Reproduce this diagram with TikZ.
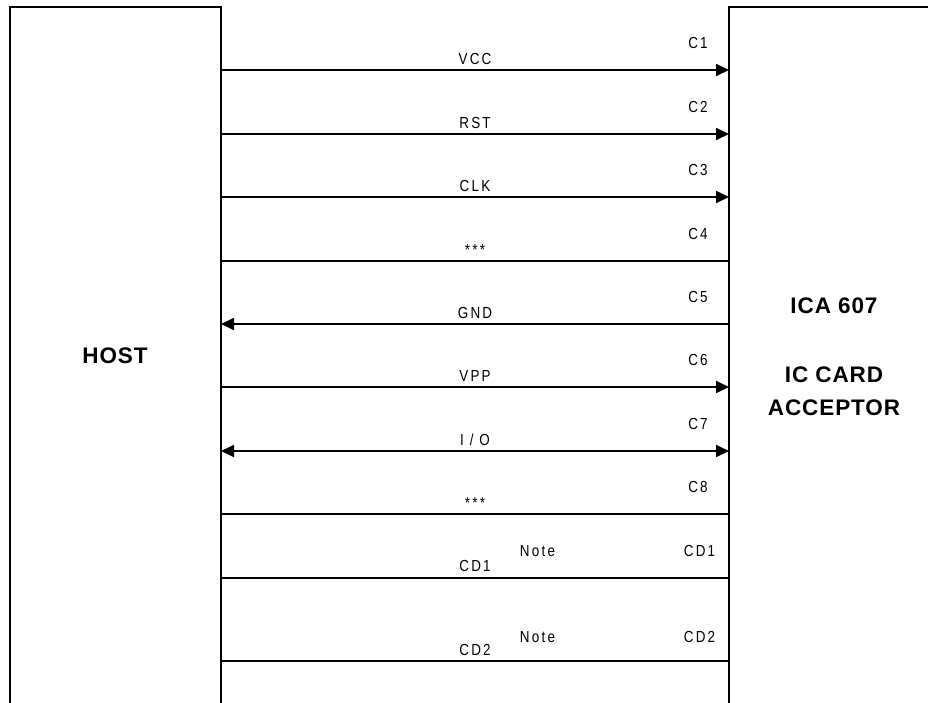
\documentclass[tikz,border=0pt]{standalone}
\usepackage{fontspec}
\setmainfont{Liberation Sans}
\newfontfamily\labfont[FakeStretch=0.84,LetterSpace=14]{Liberation Sans}
\newfontfamily\bigfont[LetterSpace=4]{Liberation Sans}
\usetikzlibrary{arrows.meta}
\begin{document}
\begin{tikzpicture}[x=1pt,y=-1pt,
  wire/.style={line width=1.8pt},
  tipr/.style={-{Triangle[length=13pt,width=12pt]}},
  tipb/.style={{Triangle[length=13pt,width=12pt]}-{Triangle[length=13pt,width=12pt]}},
  lab/.style={font=\labfont\fontsize{16}{18}\selectfont, inner sep=0pt, anchor=base},
  big/.style={font=\bigfont\bfseries\fontsize{22.5}{26}\selectfont, inner sep=0pt, anchor=base}]
\useasboundingbox (0,0) rectangle (928,702);

% boxes (open)
\draw[wire] (10,710) -- (10,7) -- (221,7) -- (221,710);
\draw[wire] (729,710) -- (729,7) -- (935,7);
\node[big] (host) at (115,363) {HOST};
\node[big] (ica) at (834,313) {ICA 607};
\node[big] (iccard) at (834,382) {IC CARD};
\node[big] (acc) at (834,415) {ACCEPTOR};

% end points on box edges
\foreach \n/\y in {1/70,2/134,3/197,4/261,5/324,6/387,7/451,8/514,9/578,10/661}{
  \coordinate (L\n) at (221,\y);
  \coordinate (R\n) at (729,\y);
}

\draw[wire,tipr] (L1) -- (R1);
\draw[wire,tipr] (L2) -- (R2);
\draw[wire,tipr] (L3) -- (R3);
\draw[wire] (L4) -- (R4);
\draw[wire,tipr] (R5) -- (L5);
\draw[wire,tipr] (L6) -- (R6);
\draw[wire,tipb] (L7) -- (R7);
\draw[wire] (L8) -- (R8);
\draw[wire] (L9) -- (R9);
\draw[wire] (L10) -- (R10);

% signal labels
\node[lab] (vcc) at (475,64) {VCC};
\node[lab] (rst) at (475,128) {RST};
\node[lab] (clk) at (475,191) {CLK};
\node[lab] (ast1) at (475,255) {***};
\node[lab] (gnd) at (475,318) {GND};
\node[lab] (vpp) at (475,381) {VPP};
\node[lab] (io) at (475,445) {I / O};
\node[lab] (ast2) at (475,508) {***};
\node[lab] (cd1l) at (475,571) {CD1};
\node[lab] (cd2l) at (475,655) {CD2};
\node[lab] (note1) at (537.5,556) {Note};
\node[lab] (note2) at (537.5,642) {Note};

% contact labels
\node[lab] (c1) at (698,48) {C1};
\node[lab] (c2) at (698,112) {C2};
\node[lab] (c3) at (698,175) {C3};
\node[lab] (c4) at (698,239) {C4};
\node[lab] (c5) at (698,302) {C5};
\node[lab] (c6) at (698,365) {C6};
\node[lab] (c7) at (698,429) {C7};
\node[lab] (c8) at (698,492) {C8};
\node[lab] (cd1r) at (699.5,556) {CD1};
\node[lab] (cd2r) at (699.5,642) {CD2};
\end{tikzpicture}
\end{document}
